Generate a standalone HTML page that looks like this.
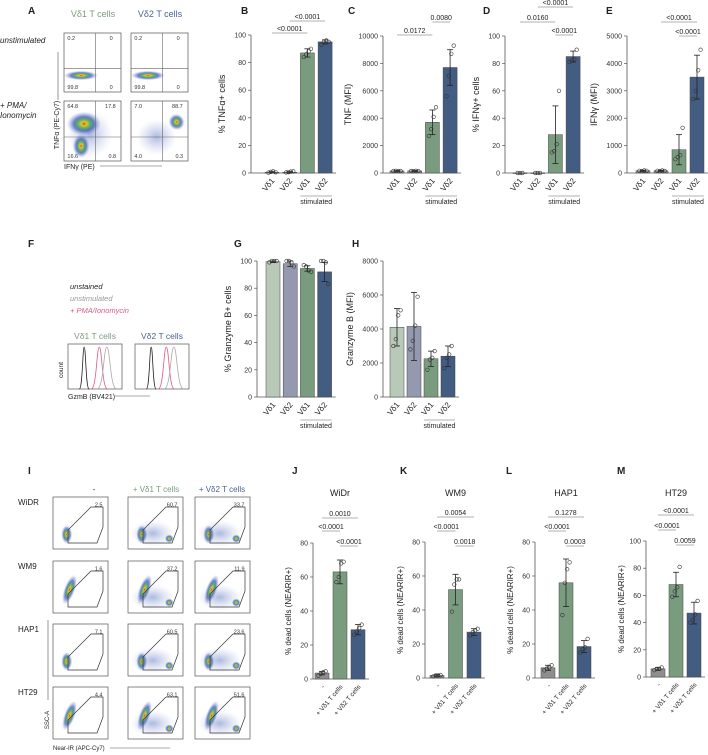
<!DOCTYPE html>
<html><head><meta charset="utf-8"><style>
body{margin:0;background:#fff}
svg{display:block;font-family:"Liberation Sans",Arial,sans-serif}
</style></head><body>
<svg id="fig" width="708" height="755" viewBox="0 0 708 755">
<defs>
<radialGradient id="heat" cx="50%" cy="50%" r="50%">
<stop offset="0" stop-color="#e8322a"/><stop offset="0.15" stop-color="#f0c030"/><stop offset="0.35" stop-color="#5cb85c"/><stop offset="0.6" stop-color="#2f4fb0" stop-opacity="0.7"/><stop offset="1" stop-color="#8090d0" stop-opacity="0"/>
</radialGradient>
<radialGradient id="cloud" cx="50%" cy="50%" r="50%">
<stop offset="0" stop-color="#3050b0" stop-opacity="0.4"/><stop offset="1" stop-color="#8090d0" stop-opacity="0"/>
</radialGradient>
</defs>
<g id="static"></g>
<g id="charts"></g>
</svg>
<script>
// ---- data ----
const catsRow1 = ["Vδ1","Vδ2","Vδ1","Vδ2"];
const catsKill = ["-","+ Vδ1 T cells","+ Vδ2 T cells"];
const bMeans=[0.5,0.5,87,95], bSd=[0.5,0.5,3,1.5], bPts=[[0.3,0.8,1.2,0.5],[0.4,0.6,1.0,1.2],[84,86,88,90],[93,95,96,95]];
const cMeans=[150,150,3700,7700], cSd=[30,30,900,1300], cPts=[[150,160,140,150],[150,140,160,150],[2700,3200,4100,4800],[5600,7100,8700,9300]];
const dMeans=[0,0,28,85], dSd=[0,0,21,4], dPts=[[0,0,0],[0,0,0],[15,16,21,60],[81,82,83,90]];
const eMeans=[80,80,850,3500], eSd=[20,20,550,800], ePts=[[80,70,90,80],[80,70,90,75],[500,580,650,1650],[2700,3000,3750,4500]];
const gMeans=[99.5,98,94.5,92], gSd=[0.5,2,2,7], gPts=[[99,100,100,100],[100,100,99,96],[97,96,93,92],[100,100,99,83]];
const hMeans=[4100,4150,2250,2400], hSd=[1100,2000,450,600], hPts=[[3000,3400,4800,5100],[2800,3300,4200,5900],[1600,2200,2300,2700],[1700,2300,2500,3000]];
const jMeans=[3.5,63,29], jSd=[1,7,3], jPts=[[2,3,4,4.5],[57,60,68,69],[26,28,30,32]];
const kMeans=[1.5,52,27], kSd=[0.5,9,2], kPts=[[1,1.5,1.5,1.7],[39,55,58,58],[25,27,28,29]];
const lMeans=[6,56,18.5], lSd=[1.5,14,3.5], lPts=[[4.5,5.5,6,7.5],[37,56,64,68],[15,17,18,23]];
const mMeans=[6,68,47], mSd=[1,9,8], mPts=[[5,6,6,7],[59,63,66,81],[40,42,46,56]];
const ticks100=[0,20,40,60,80,100], ticks80=[0,20,40,60,80], ticksC=[0,2000,4000,6000,8000,10000], ticksE=[0,1000,2000,3000,4000,5000], ticksH=[0,2000,4000,6000,8000];

const NS="http://www.w3.org/2000/svg";
function mk(parent,tag,attrs,text){const e=document.createElementNS(NS,tag);for(const k in attrs)e.setAttribute(k,attrs[k]);if(text!==undefined)e.textContent=text;parent.appendChild(e);return e;}
const G=document.getElementById('charts'), S=document.getElementById('static');
const GREEN="#7a9c7e", BLUE="#435c82", GREY="#8e8e8e", LGREEN="#b9c9b8", LBLUE="#9499b0";

function chart(o){
  const g=mk(G,'g',{});
  
  
  const y=v=>o.y0-(v/o.ymax)*(o.y0-o.y1);
  const x=i=>o.xs+i*o.step;
  const ax=mk(g,'line',{x1:o.ax,x2:o.ax,y1:o.y1,y2:o.y0,stroke:"#555","stroke-width":0.8});
  
  const xe=x(o.means.length-1)+o.bw/2+4;
  mk(g,'line',{x1:o.ax,x2:xe,y1:o.y0,y2:o.y0,stroke:"#555","stroke-width":0.8});
  o.ticks.forEach(t=>{mk(g,'line',{x1:o.ax-3,x2:o.ax,y1:y(t),y2:y(t),stroke:"#555","stroke-width":0.7});
    const tl=mk(g,'text',{x:o.ax-5,y:y(t)+2.5,"font-size":7,"text-anchor":"end",fill:"#333"},t);
    });
  const yl=mk(g,'text',{x:0,y:0,"font-size":o.lfs||9,"text-anchor":"middle",fill:"#222",transform:`translate(${o.ax-(o.ldx||26)},${(o.y0+o.y1)/2}) rotate(-90)`},o.ylabel);
  
  o.means.forEach((m,i)=>{
    const cx=x(i);
    const b=mk(g,'rect',{x:cx-o.bw/2,y:y(m),width:o.bw,height:Math.max(0.5,o.y0-y(m)),fill:o.colors[i],stroke:"#444","stroke-width":0.5});
    
    const sd=o.sd[i];
    if(sd>0){mk(g,'line',{x1:cx,x2:cx,y1:y(m-sd),y2:y(m+sd),stroke:"#222","stroke-width":0.8});
      [m-sd,m+sd].forEach(v=>mk(g,'line',{x1:cx-3,x2:cx+3,y1:y(v),y2:y(v),stroke:"#222","stroke-width":0.8}));}
    const p=o.pts[i];
    p.forEach((v,j)=>{const dx=(j-(p.length-1)/2)*2.4;
      const c=mk(g,'circle',{cx:cx+dx,cy:y(v),r:1.8,fill:"none",stroke:"#333","stroke-width":0.6});
      });
    const lab=mk(g,'text',{x:0,y:0,"font-size":o.xfs||8,"text-anchor":"end",fill:"#222",transform:`translate(${cx+3},${o.y0+8}) rotate(-50)`},o.cats[i]);
    
  });
  if(o.stim){const x1=x(2)-o.bw/2,x2=x(3)+o.bw/2;mk(g,'line',{x1:x1,x2:x2,y1:o.y0+23,y2:o.y0+23,stroke:"#999","stroke-width":0.8});
    const st=mk(g,'text',{x:(x1+x2)/2,y:o.y0+31,"font-size":7,"text-anchor":"middle",fill:"#222"},"stimulated");
    }
  (o.br||[]).forEach(b=>{const x1=x(b[0]),x2=x(b[1]);
    mk(g,'line',{x1:x1,x2:x2,y1:b[3],y2:b[3],stroke:"#999","stroke-width":0.8});
    const t=mk(g,'text',{x:(x1+x2)/2,y:b[3]-2,"font-size":7,"text-anchor":"middle",fill:"#222"},b[2]);
    });
  if(o.title){const t=mk(g,'text',{x:x(1),y:o.ty,"font-size":9,"text-anchor":"middle",fill:"#222"},o.title);
    }
}
const c4=[GREY,GREY,GREEN,BLUE], cG=[LGREEN,LBLUE,GREEN,BLUE], c3=[GREY,GREEN,BLUE];
chart({name:'chart-b',ax:251,y0:173,y1:35,ymax:100,ticks:ticks100,xs:272,step:17.7,bw:14,means:bMeans,sd:bSd,pts:bPts,colors:c4,cats:catsRow1,ylabel:"% TNFα+ cells",stim:1,br:[[0,2,"<0.0001",33],[1,3,"<0.0001",21]]});
chart({name:'chart-c',ax:383,y0:173,y1:36,ymax:10000,ticks:ticksC,xs:397,step:17.7,bw:14,means:cMeans,sd:cSd,pts:cPts,colors:c4,cats:catsRow1,ylabel:"TNF (MFI)",ldx:32,stim:1,br:[[0,2,"0.0172",35],[2,3,"0.0080",22]]});
chart({name:'chart-d',ax:505,y0:173,y1:36,ymax:100,ticks:ticks100,xs:520,step:17.7,bw:14,means:dMeans,sd:dSd,pts:dPts,colors:c4,cats:catsRow1,ylabel:"% IFNγ+ cells",stim:1,br:[[0,2,"0.0160",22],[2,3,"<0.0001",35],[1,3,"<0.0001",7]]});
chart({name:'chart-e',ax:627,y0:173,y1:36,ymax:5000,ticks:ticksE,xs:643,step:18,bw:14,means:eMeans,sd:eSd,pts:ePts,colors:c4,cats:catsRow1,ylabel:"IFNγ (MFI)",ldx:30,stim:1,br:[[2,3,"<0.0001",36],[1,3,"<0.0001",22]]});
chart({name:'chart-g',ax:257,y0:397,y1:261,ymax:100,ticks:ticks100,xs:273,step:17.2,bw:14,means:gMeans,sd:gSd,pts:gPts,colors:cG,cats:catsRow1,ylabel:"% Granzyme B+ cells",stim:1});
chart({name:'chart-h',ax:383,y0:397,y1:261,ymax:8000,ticks:ticksH,xs:397,step:17,bw:14,means:hMeans,sd:hSd,pts:hPts,colors:cG,cats:catsRow1,ylabel:"Granzyme B (MFI)",ldx:30,stim:1});
chart({name:'chart-j',ax:313,y0:679,y1:543,ymax:80,ticks:ticks80,xs:322,step:18,bw:14,means:jMeans,sd:jSd,pts:jPts,colors:c3,cats:catsKill,xfs:6.5,lfs:8,ldx:22,ylabel:"% dead cells (NEARIR+)",title:"WiDr",ty:496,br:[[0,1,"<0.0001",531],[1,2,"<0.0001",546],[0,2,"0.0010",518]]});
chart({name:'chart-k',ax:425,y0:678,y1:542,ymax:80,ticks:ticks80,xs:437,step:18.5,bw:14,means:kMeans,sd:kSd,pts:kPts,colors:c3,cats:catsKill,xfs:6.5,lfs:8,ldx:22,ylabel:"% dead cells (NEARIR+)",title:"WM9",ty:496,br:[[0,1,"<0.0001",531],[1,2,"0.0018",546],[0,2,"0.0054",517]]});
chart({name:'chart-l',ax:535,y0:678,y1:542,ymax:80,ticks:ticks80,xs:548,step:18,bw:14,means:lMeans,sd:lSd,pts:lPts,colors:c3,cats:catsKill,xfs:6.5,lfs:8,ldx:22,ylabel:"% dead cells (NEARIR+)",title:"HAP1",ty:496,br:[[0,1,"<0.0001",531],[1,2,"0.0003",546],[0,2,"0.1278",517]]});
chart({name:'chart-m',ax:646,y0:677,y1:541,ymax:100,ticks:ticks100,xs:658,step:18,bw:14,means:mMeans,sd:mSd,pts:mPts,colors:c3,cats:catsKill,xfs:6.5,lfs:8,ldx:22,ylabel:"% dead cells (NEARIR+)",title:"HT29",ty:496,br:[[0,1,"<0.0001",530],[1,2,"0.0059",545],[0,2,"<0.0001",515]]});

// ---- static panels ----
function T(x,y,s,fs,attrs,name){const t=mk(S,'text',Object.assign({x:x,y:y,"font-size":fs,fill:"#222"},attrs||{}),s);return t;}
[["A",28,10],["B",241,10],["C",348,10],["D",483,10],["E",606,10],["F",28,243],["G",234,243],["H",352,243],["I",28,470],["J",292,470],["K",400,470],["L",506,470],["M",617,470]].forEach(p=>T(p[1],p[2]+4,p[0],10,{"font-weight":"bold"},'panel-letter'));
// Panel A
T(93,17,"Vδ1 T cells",9,{"text-anchor":"middle",fill:"#7a9c7e"},'column-title');
T(160,17,"Vδ2 T cells",9,{"text-anchor":"middle",fill:"#4a6390"},'column-title');
T(0,43,"unstimulated",8,{"font-style":"italic"},'row-label');
T(0,108,"+ PMA/",8,{"font-style":"italic"},'row-label');
T(0,118,"Ionomycin",8,{"font-style":"italic"},'row-label');
function flow(x,y,w,h,blobs,qx,qy,nums,name){
  const g=mk(S,'g',{});
  blobs.forEach(b=>mk(g,'ellipse',{cx:x+b[0]*w,cy:y+b[1]*h,rx:b[2]*w,ry:b[3]*h,fill:b[4]?'url(#cloud)':'url(#heat)',transform:b[5]?`rotate(${b[5]} ${x+b[0]*w} ${y+b[1]*h})`:''}));
  mk(g,'rect',{x:x,y:y,width:w,height:h,fill:"none",stroke:"#555","stroke-width":0.7});
  if(qx)mk(g,'line',{x1:x+qx*w,x2:x+qx*w,y1:y,y2:y+h,stroke:"#666","stroke-width":0.6});
  if(qy)mk(g,'line',{x1:x,x2:x+w,y1:y+qy*h,y2:y+qy*h,stroke:"#666","stroke-width":0.6});
  (nums||[]).forEach(n=>{const t=mk(g,'text',{x:x+n[0]*w,y:y+n[1]*h,"font-size":5.5,fill:"#333","text-anchor":n[3]||"start"},n[2]);});
  return g;}
flow(64,33,57,59,[[0.3,0.72,0.3,0.08]],0.55,0.6,[[0.06,0.12,"0.2"],[0.8,0.12,"0"],[0.06,0.95,"99.8"],[0.8,0.95,"0"]],'flow-a-v1-unstim');
flow(131,33,57,59,[[0.3,0.72,0.3,0.08]],0.55,0.6,[[0.06,0.12,"0.2"],[0.8,0.12,"0"],[0.06,0.95,"99.8"],[0.8,0.95,"0"]],'flow-a-v2-unstim');
flow(64,101,57,60,[[0.45,0.55,0.4,0.4,1],[0.35,0.38,0.3,0.2],[0.3,0.75,0.15,0.2]],0.55,0.6,[[0.06,0.12,"64.8"],[0.72,0.12,"17.8"],[0.06,0.95,"16.6"],[0.78,0.95,"0.8"]],'flow-a-v1-stim');
flow(131,101,57,60,[[0.45,0.6,0.35,0.3,1],[0.8,0.35,0.14,0.14,0,-35]],0.55,0.6,[[0.06,0.12,"7.0"],[0.72,0.12,"88.7"],[0.06,0.95,"4.0"],[0.78,0.95,"0.3"]],'flow-a-v2-stim');
T(0,0,"TNFα (PE-Cy7)",7,{"text-anchor":"middle",transform:"translate(59,125) rotate(-90)"},'axis-title');
mk(S,'line',{x1:58,x2:58,y1:52,y2:100,stroke:"#555","stroke-width":0.6});
T(64,169,"IFNγ (PE)",7,{},'axis-title');
mk(S,'line',{x1:100,x2:162,y1:166,y2:166,stroke:"#555","stroke-width":0.6});
// Panel F
T(70,289,"unstained",7.5,{"font-style":"italic"},'legend-entry');
T(70,301,"unstimulated",7.5,{"font-style":"italic",fill:"#999"},'legend-entry');
T(70,313,"+ PMA/Ionomycin",7.5,{"font-style":"italic",fill:"#e05a80"},'legend-entry');
T(95,339,"Vδ1 T cells",8.5,{"text-anchor":"middle",fill:"#7a9c7e"},'column-title');
T(162,339,"Vδ2 T cells",8.5,{"text-anchor":"middle",fill:"#4a6390"},'column-title');
function hist(x,name){const g=mk(S,'g',{});
  const y=344,h=45,w=54;
  mk(g,'rect',{x:x,y:y,width:w,height:h,fill:"none",stroke:"#555","stroke-width":0.7});
  [[0.3,0.03,"#222"],[0.58,0.05,"#e05a80"],[0.72,0.06,"#aaa"]].forEach(p=>{const cx=x+p[0]*w,s=p[1]*w;
    mk(g,'path',{d:`M${cx-3*s},${y+h} C${cx-s},${y+h} ${cx-s},${y+3} ${cx},${y+3} C${cx+s},${y+3} ${cx+s},${y+h} ${cx+3*s},${y+h}`,fill:"none",stroke:p[2],"stroke-width":0.8});});}
hist(68,'histogram-v1');hist(135,'histogram-v2');
T(0,0,"count",6.5,{"text-anchor":"middle",transform:"translate(63,370) rotate(-90)"},'axis-title');
T(68,399,"GzmB (BV421)",7,{},'axis-title');
mk(S,'line',{x1:115,x2:150,y1:396,y2:396,stroke:"#555","stroke-width":0.6});
// Panel I
T(94,492,"-",8,{"text-anchor":"middle"},'column-title');
T(156,492,"+ Vδ1 T cells",8,{"text-anchor":"middle",fill:"#7a9c7e"},'column-title');
T(222,492,"+ Vδ2 T cells",8,{"text-anchor":"middle",fill:"#4a6390"},'column-title');
const iRows=["WiDR","WM9","HAP1","HT29"], iY=[497,561,624,687];
const iNums=[["2.5","60.7","33.7"],["1.6","37.2","11.9"],["7.1","60.5","23.6"],["4.4","63.1","51.6"]];
const iX=[53,128,195];
iRows.forEach((r,ri)=>{T(18,iY[ri]+8,r,8,{},'row-label');
  iX.forEach((x,ci)=>{
    const blobs=ri==0||ri==2?[[0.25,0.72,0.1,0.18]]:[[0.3,0.55,0.1,0.3,0,20]];
    if(ci>0)blobs.push([0.45,0.7,0.4,0.25,1],[0.75,0.8,0.08,0.08]);
    const g=flow(x,iY[ri],55,52,blobs,0,0,[[0.9,0.18,iNums[ri][ci],"end"]],'flow-i-'+r.toLowerCase()+'-'+ci);
    const px=x,py=iY[ri];
    mk(g,'path',{d:`M${px+15},${py+46} L${px+15},${py+33} L${px+38},${py+10} L${px+50},${py+10} L${px+50},${py+30} L${px+44},${py+46} Z`,fill:"none",stroke:"#333","stroke-width":0.7});
  });});
T(0,0,"SSC-A",6,{"text-anchor":"middle",transform:"translate(49,720) rotate(-90)"},'axis-title');
mk(S,'line',{x1:48,x2:48,y1:620,y2:700,stroke:"#555","stroke-width":0.6});
T(53,750,"Near-IR (APC-Cy7)",6,{},'axis-title');
mk(S,'line',{x1:110,x2:170,y1:748,y2:748,stroke:"#555","stroke-width":0.6});
</script>
</body></html>
